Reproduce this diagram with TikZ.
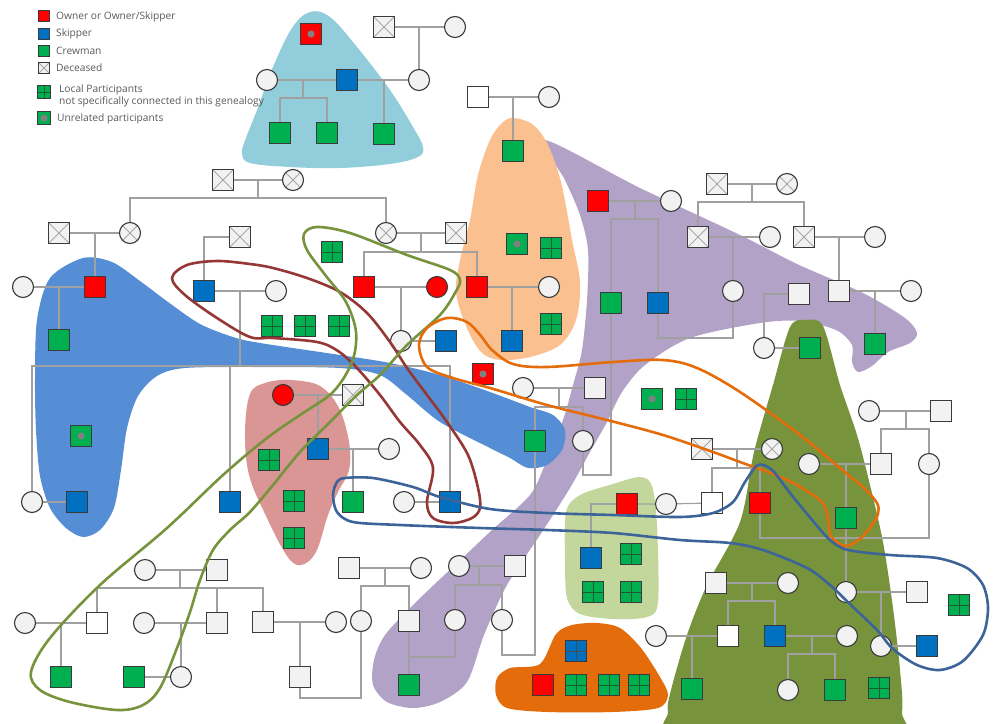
\documentclass[tikz,border=0pt]{standalone}
\usepackage{fontspec}
\setmainfont{Open Sans}
\usetikzlibrary{calc}
\definecolor{nred}{HTML}{FF0000}
\definecolor{nblue}{HTML}{0070C0}
\definecolor{ngreen}{HTML}{00B050}
\definecolor{nlight}{HTML}{F2F2F2}
\definecolor{ndark}{HTML}{3A3A3A}
\definecolor{lgray}{HTML}{A0A0A0}
\definecolor{xgray}{HTML}{A6A6A6}
\definecolor{gridc}{HTML}{1E5A32}
\definecolor{dotc}{HTML}{808080}
\definecolor{legc}{HTML}{595959}
\definecolor{blLight}{HTML}{92CDDC}
\definecolor{blMain}{HTML}{558ED5}
\definecolor{blRose}{HTML}{D99694}
\definecolor{blPeach}{HTML}{FAC090}
\definecolor{blPurple}{HTML}{B3A2C7}
\definecolor{blLgreen}{HTML}{C3D69B}
\definecolor{blOrange}{HTML}{E46C0A}
\definecolor{blOlive}{HTML}{77933C}
\definecolor{lpRed}{HTML}{953735}
\definecolor{lpOlive}{HTML}{77933C}
\definecolor{lpOrange}{HTML}{E46C0A}
\definecolor{lpBlue}{HTML}{3D6498}
\pgfdeclarelayer{blobs}
\pgfdeclarelayer{lines}
\pgfdeclarelayer{fg}
\pgfsetlayers{blobs,lines,main,fg}
\tikzset{
 nd/.style={inner sep=0pt, outer sep=0pt, line width=1.1pt, draw=ndark},
 sq/.style={nd, rectangle, minimum size=20.5pt, fill=nlight},
 wsq/.style={sq, fill=white},
 ci/.style={nd, circle, minimum size=21pt, fill=nlight},
 rci/.style={ci, fill=nred},
 rsq/.style={sq, fill=nred},
 bsq/.style={sq, fill=nblue},
 gsq/.style={sq, fill=ngreen},
 xmark/.style={path picture={\draw[xgray, line width=0.8pt] (path picture bounding box.south west) -- (path picture bounding box.north east) (path picture bounding box.north west) -- (path picture bounding box.south east);}},
 dsq/.style={sq, xmark},
 dci/.style={ci, xmark},
 gridmark/.style={path picture={\draw[gridc, line width=0.9pt] (path picture bounding box.north) -- (path picture bounding box.south) (path picture bounding box.west) -- (path picture bounding box.east);}},
 grd/.style={gsq, gridmark},
 bgrd/.style={bsq, path picture={\draw[black!70, line width=0.9pt] (path picture bounding box.north) -- (path picture bounding box.south) (path picture bounding box.west) -- (path picture bounding box.east);}},
 dotmark/.style={path picture={\fill[dotc] (path picture bounding box.center) circle (3.6pt);}},
 gdot/.style={gsq, dotmark},
 rdot/.style={rsq, dotmark},
 ln/.style={draw=lgray, line width=1.2pt},
 lp/.style={line width=2.6pt},
 lg/.style={font=\fontsize{10.2}{12}\selectfont, text=legc, anchor=west, inner sep=0pt},
 lgbox/.style={minimum size=11.5pt, line width=0.8pt},
}
\begin{document}
\begin{tikzpicture}[x=1pt,y=-1pt]
\useasboundingbox (0,0) rectangle (995,723);
\clip (0,0) rectangle (995,723);
% ---------- blobs ----------
\begin{pgfonlayer}{blobs}
\fill[blLight] plot[smooth cycle, tension=0.6] coordinates {(310,12) (330,17) (357,47) (390,90) (413,127) (423,147) (418,157) (390,164) (340,168) (290,167) (250,163) (242,153) (246,138) (257,110) (273,67) (292,28)};
\fill[blPurple] plot[smooth cycle, tension=0.5] coordinates {(545,140) (640,188) (740,235) (797,264) (863,293) (905,318) (917,333) (910,343) (888,352) (872,366) (858,372) (852,362) (852,345) (836,330) (800,321) (760,323) (690,338) (645,365) (622,392) (607,422) (590,452) (570,488) (542,532) (507,585) (484,635) (467,682) (440,702) (413,708) (387,702) (373,685) (374,660) (385,635) (415,603) (455,565) (492,530) (530,495) (546,462) (563,420) (573,385) (582,350) (587,300) (588,250) (580,215) (565,180)};
\fill[blPeach] plot[smooth cycle, tension=0.55] coordinates {(513,118) (532,124) (547,143) (561,182) (572,240) (580,282) (576,320) (560,345) (530,357) (500,360) (481,352) (466,326) (456,292) (460,260) (470,220) (478,175) (490,140) (502,123)};
\fill[blMain] plot[smooth cycle, tension=0.5] coordinates {(83,258) (112,262) (140,281) (168,302) (200,324) (233,337) (260,343) (340,355) (390,363) (440,375) (490,392) (530,407) (553,415) (565,430) (562,450) (547,465) (528,468) (510,458) (490,448) (440,422) (407,395) (380,375) (340,368) (260,367) (185,368) (157,376) (138,396) (127,428) (121,470) (114,508) (100,530) (83,537) (66,528) (50,508) (40,476) (36,430) (35,380) (37,320) (50,278)};
\fill[blRose] plot[smooth cycle, tension=0.6] coordinates {(250,394) (265,383) (290,380) (320,386) (339,408) (349,442) (349,470) (338,492) (328,515) (316,552) (301,565) (287,556) (266,516) (249,475) (245,432)};
\fill[blLgreen] plot[smooth cycle, tension=0.5] coordinates {(566,512) (580,495) (613,484) (640,477) (652,486) (657,525) (658,602) (647,617) (613,619) (580,614) (567,598) (565,560)};
\fill[blOrange] plot[smooth cycle, tension=0.5] coordinates {(497,678) (510,668) (540,664) (556,634) (572,625) (597,623) (620,628) (641,648) (660,677) (668,695) (658,708) (613,712) (547,712) (507,708) (496,695)};
\fill[blOlive] plot[smooth cycle, tension=0.5] coordinates {(806,320) (823,326) (840,385) (857,435) (870,485) (883,542) (893,608) (900,670) (902,712) (890,735) (680,735) (668,712) (671,690) (687,635) (707,585) (740,522) (754,452) (773,385) (790,327)};
\end{pgfonlayer}
% ---------- legend ----------
\node[rsq, lgbox] (lg1) at (44,16) {};
\node[bsq, lgbox] (lg2) at (44,34) {};
\node[gsq, lgbox] (lg3) at (44,51) {};
\node[dsq, lgbox] (lg4) at (44,68) {};
\node[grd, lgbox, minimum size=12.5pt] (lg5) at (44,92) {};
\node[gdot, lgbox, minimum size=12.5pt] (lg6) at (44,118) {};
\node[lg] (lt1) at (56,17) {Owner or Owner/Skipper};
\node[lg] (lt2) at (56,34) {Skipper};
\node[lg] (lt3) at (56,51) {Crewman};
\node[lg] (lt4) at (56,68) {Deceased};
\node[lg] (lt5) at (59,89.5) {Local Participants};
\node[lg] (lt6) at (59,101.5) {not specifically connected in this genealogy};
\node[lg] (lt7) at (57,119) {Unrelated participants};
% ---------- nodes ----------
\node[rdot] (t1) at (311,34) {};
\node[dsq] (t2) at (384,27) {};
\node[ci] (t3) at (455,27) {};
\node[ci] (t4) at (267,80) {};
\node[bsq] (t5) at (347,80) {};
\node[ci] (t6) at (419,80) {};
\node[gsq] (t7) at (280,133) {};
\node[gsq] (t8) at (327,133) {};
\node[gsq] (t9) at (384,134) {};
\node[wsq] (t10) at (478,97) {};
\node[ci] (t11) at (549,97) {};
\node[gsq] (t12) at (513,151) {};
\node[dsq] (g1) at (223,180) {};
\node[dci] (g2) at (293,180) {};
\node[dsq] (g3) at (59,233) {};
\node[dci] (g4) at (130,233) {};
\node[dsq] (g5) at (240,237) {};
\node[dci] (g6) at (386,233) {};
\node[dsq] (g7) at (456,233) {};
\node[ci] (h1) at (23,287) {};
\node[rsq] (h2) at (95,287) {};
\node[bsq] (h3) at (204,291) {};
\node[ci] (h4) at (276,291) {};
\node[rsq] (h5) at (364,287) {};
\node[rci] (h6) at (437,287) {};
\node[rsq] (h7) at (477,287) {};
\node[ci] (h8) at (549,287) {};
\node[gsq] (h9) at (59,340) {};
\node[ci] (h10) at (401,341) {};
\node[bsq] (h11) at (446,341) {};
\node[bsq] (h12) at (512,341) {};
\node[gdot] (h13) at (517,244) {};
\node[grd] (h14) at (551,248) {};
\node[grd] (h15) at (551,324) {};
\node[grd] (h16) at (332,252) {};
\node[grd] (h17) at (272,326) {};
\node[grd] (h18) at (305,326) {};
\node[grd] (h19) at (339,326) {};
\node[gdot] (h20) at (81,436) {};
\node[rdot] (h21) at (483,374) {};
\node[rci] (r1) at (283,395) {};
\node[dsq] (r2) at (353,395) {};
\node[bsq] (r3) at (318,449) {};
\node[ci] (r4) at (389,449) {};
\node[grd] (r5) at (269,460) {};
\node[grd] (r6) at (294,501) {};
\node[grd] (r7) at (294,538) {};
\node[gsq] (r8) at (353,502) {};
\node[ci] (k1) at (32,502) {};
\node[bsq] (k2) at (77,502) {};
\node[bsq] (k3) at (230,502) {};
\node[ci] (k4) at (404,502) {};
\node[bsq] (k5) at (450,502) {};
\node[dsq] (u1) at (717,184) {};
\node[dci] (u2) at (787,184) {};
\node[rsq] (u3) at (598,201) {};
\node[ci] (u4) at (671,201) {};
\node[dsq] (u5) at (698,237) {};
\node[ci] (u6) at (770,237) {};
\node[dsq] (u7) at (804,237) {};
\node[ci] (u8) at (875,237) {};
\node[gsq] (u9) at (611,303) {};
\node[bsq] (u10) at (658,303) {};
\node[ci] (u11) at (733,291) {};
\node[sq] (u12) at (799,294) {};
\node[sq] (u13) at (839,291) {};
\node[ci] (u14) at (911,291) {};
\node[ci] (u15) at (764,348) {};
\node[gsq] (u16) at (810,348) {};
\node[gsq] (u17) at (875,344) {};
\node[ci] (m1) at (523,388) {};
\node[sq] (m2) at (595,388) {};
\node[gsq] (m3) at (535,441) {};
\node[ci] (m4) at (583,441) {};
\node[gdot] (m5) at (652,399) {};
\node[grd] (m6) at (686,399) {};
\node[dsq] (q1) at (702,449) {};
\node[dci] (q2) at (772,449) {};
\node[ci] (q3) at (869,411) {};
\node[sq] (q4) at (941,411) {};
\node[ci] (q5) at (809,464) {};
\node[sq] (q6) at (881,464) {};
\node[ci] (q7) at (929,464) {};
\node[wsq] (q8) at (712,503) {};
\node[rsq] (q9) at (760,503) {};
\node[gsq] (q10) at (846,518) {};
\node[rsq] (l1) at (627,504) {};
\node[ci] (l2) at (666,504) {};
\node[bsq] (l3) at (591,558) {};
\node[grd] (l4) at (631,554) {};
\node[grd] (l5) at (593,592) {};
\node[grd] (l6) at (631,592) {};
\node[bgrd] (o1) at (576,651) {};
\node[rsq] (o2) at (543,685) {};
\node[grd] (o3) at (576,685) {};
\node[grd] (o4) at (609,685) {};
\node[grd] (o5) at (639,685) {};
\node[sq] (v1) at (716,583) {};
\node[ci] (v2) at (788,583) {};
\node[ci] (v3) at (656,636) {};
\node[wsq] (v4) at (728,636) {};
\node[bsq] (v5) at (775,636) {};
\node[ci] (v6) at (847,636) {};
\node[gsq] (v7) at (692,689) {};
\node[ci] (v8) at (788,690) {};
\node[gsq] (v9) at (835,690) {};
\node[grd] (v10) at (879,688) {};
\node[ci] (v11) at (846,592) {};
\node[sq] (v12) at (917,592) {};
\node[ci] (v13) at (881,646) {};
\node[bsq] (v14) at (927,646) {};
\node[grd] (v15) at (959,605) {};
\node[ci] (w1) at (145,570) {};
\node[sq] (w2) at (217,570) {};
\node[ci] (w3) at (25,623) {};
\node[wsq] (w4) at (97,623) {};
\node[ci] (w5) at (144,623) {};
\node[sq] (w6) at (217,623) {};
\node[sq] (w7) at (263,622) {};
\node[ci] (w8) at (336,622) {};
\node[gsq] (w9) at (61,677) {};
\node[gsq] (w10) at (134,677) {};
\node[ci] (w11) at (181,677) {};
\node[sq] (w12) at (300,677) {};
\node[sq] (z1) at (349,568) {};
\node[ci] (z2) at (421,568) {};
\node[ci] (z3) at (459,566) {};
\node[sq] (z4) at (515,566) {};
\node[ci] (z5) at (361,621) {};
\node[sq] (z6) at (409,621) {};
\node[ci] (z7) at (455,620) {};
\node[ci] (z8) at (502,620) {};
\node[gsq] (z9) at (409,685) {};
% ---------- junction coordinates ----------
\coordinate (s1) at (303,98);
\coordinate (s2) at (258,198);
\coordinate (s3) at (421,252);
\coordinate (s4) at (240,366);
\coordinate (s5) at (752,202);
\coordinate (s6) at (635,219);
\coordinate (s7) at (559,407);
\coordinate (s8) at (737,468);
\coordinate (s9) at (906,429);
\coordinate (s10) at (180,588);
\coordinate (s11) at (385,586);
\coordinate (s12) at (479,585);
\coordinate (s13) at (752,601);
\coordinate (s14) at (812,654);
\coordinate (y1) at (0,475);
\coordinate (y2) at (0,338);
\coordinate (y3) at (0,655);
\coordinate (y4) at (0,698);
\coordinate (y5) at (0,657);
\coordinate (y6) at (0,538);
% ---------- connectors ----------
\begin{pgfonlayer}{lines}
\draw[ln] (t2) -- (t3); \draw[ln] (t6 |- t2) -- (t6);
\draw[ln] (t4) -- (t5) -- (t6);
\draw[ln] (s1 |- t5) -- (s1); \draw[ln] (t7) -- (t7 |- s1) -| (t8);
\draw[ln] (t9 |- t5) -- (t9);
\draw[ln] (t10) -- (t11); \draw[ln] (t12 |- t10) -- (t12);
\draw[ln] (g1) -- (g2); \draw[ln] (s2 |- g1) -- (s2); \draw[ln] (g4) -- (g4 |- s2) -| (g6);
\draw[ln] (g3) -- (g4); \draw[ln] (h2 |- g3) -- (h2);
\draw[ln] (g5) -| (h3);
\draw[ln] (g6) -- (g7); \draw[ln] (s3 |- g6) -- (s3); \draw[ln] (h5) -- (h5 |- s3) -| (h7);
\draw[ln] (h1) -- (h2); \draw[ln] (h9 |- h2) -- (h9);
\draw[ln] (h3) -- (h4); \draw[ln] (s4 |- h3) -- (s4); \draw[ln] (k1) -- (k1 |- s4) -| (k5); \draw[ln] (k3) -- (k3 |- s4);
\draw[ln] (h5) -- (h6); \draw[ln] (h10 |- h5) -- (h10);
\draw[ln] (h7) -- (h8); \draw[ln] (h12 |- h7) -- (h12);
\draw[ln] (h10) -- (h11);
\draw[ln] (k1) -- (k2);
\draw[ln] (r1) -- (r2); \draw[ln] (r3 |- r1) -- (r3);
\draw[ln] (r3) -- (r4); \draw[ln] (r8 |- r3) -- (r8);
\draw[ln] (k4) -- (k5);
\draw[ln] (u1) -- (u2); \draw[ln] (s5 |- u1) -- (s5); \draw[ln] (u5) -- (u5 |- s5) -| (u7);
\draw[ln] (u3) -- (u4); \draw[ln] (s6 |- u3) -- (s6); \draw[ln] (u9) -- (u9 |- s6) -| (u10);
\draw[ln] (u5) -- (u6); \draw[ln] (u11 |- u5) -- (u11);
\draw[ln] (u7) -- (u8); \draw[ln] (u13 |- u7) -- (u13);
\draw[ln] (u13) -- (u14); \draw[ln] (u17 |- u13) -- (u17);
\draw[ln] (u12) -| (u15);
\draw[ln] (u15) -- (u16);
\draw[ln] (u9) -- (u9 |- y1) -- (m4 |- y1) -- (m4);
\draw[ln] (u10) -- (u10 |- y2) -- (u11 |- y2) -- (u11);
\draw[ln] (m1) -- (m2); \draw[ln] (s7 |- m1) -- (s7); \draw[ln] (m3) -- (m3 |- s7) -| (m4);
\draw[ln] (m3) -- (m3 |- y3) -- (z8 |- y3) -- (z8);
\draw[ln] (q1) -- (q2); \draw[ln] (s8 |- q1) -- (s8); \draw[ln] (q8) -- (q8 |- s8) -| (q9);
\draw[ln] (q3) -- (q4); \draw[ln] (s9 |- q3) -- (s9); \draw[ln] (q6) -- (q6 |- s9) -| (q7);
\draw[ln] (q5) -- (q6); \draw[ln] (q10 |- q5) -- (q10);
\draw[ln] (q9) -- (q9 |- y6) -- (q7 |- y6) -- (q7);
\draw[ln] (q10) -- (v11);
\draw[ln] (l1) -- (l2) -- (q8);
\draw[ln] (l1) -| (l3);
\draw[ln] (v1) -- (v2); \draw[ln] (s13 |- v1) -- (s13); \draw[ln] (v4) -- (v4 |- s13) -| (v5);
\draw[ln] (v3) -- (v4); \draw[ln] (v7 |- v3) -- (v7);
\draw[ln] (v5) -- (v6); \draw[ln] (s14 |- v5) -- (s14); \draw[ln] (v8) -- (v8 |- s14) -| (v9);
\draw[ln] (v11) -- (v12); \draw[ln] (v13 |- v11) -- (v13);
\draw[ln] (v13) -- (v14);
\draw[ln] (w1) -- (w2); \draw[ln] (s10 |- w1) -- (s10); \draw[ln] (w4) -- (w4 |- s10) -| (w7); \draw[ln] (w6) -- (w6 |- s10);
\draw[ln] (w3) -- (w4); \draw[ln] (w9 |- w3) -- (w9);
\draw[ln] (w5) -- (w6); \draw[ln] (w11 |- w5) -- (w11);
\draw[ln] (w10) -- (w11);
\draw[ln] (w7) -- (w8); \draw[ln] (w12 |- w7) -- (w12);
\draw[ln] (w12) -- (w12 |- y4) -- (z5 |- y4) -- (z5);
\draw[ln] (z1) -- (z2); \draw[ln] (s11 |- z1) -- (s11); \draw[ln] (z5) -- (z5 |- s11) -| (z6);
\draw[ln] (z6) -- (z9); \draw[ln] (z6 |- y5) -- (z7 |- y5) -- (z7);
\draw[ln] (z3) -- (z4); \draw[ln] (s12 |- z3) -- (s12); \draw[ln] (z7) -- (z7 |- s12) -| (z8);
\end{pgfonlayer}
% ---------- loops ----------
\begin{pgfonlayer}{fg}
\draw[lp, lpRed] plot[smooth cycle, tension=0.55] coordinates {(172,278) (187,265) (217,261) (250,264) (273,268) (307,278) (340,292) (367,313) (390,342) (407,368) (427,395) (447,422) (468,455) (478,488) (480,508) (472,518) (453,523) (433,518) (427,502) (433,468) (420,445) (400,422) (380,395) (357,368) (338,351) (317,342) (273,338) (250,337) (217,318) (185,295)};
\draw[lp, lpOlive] plot[smooth cycle, tension=0.55] coordinates {(317,227) (350,233) (407,255) (450,270) (460,280) (455,293) (440,315) (407,345) (380,375) (357,395) (330,422) (300,452) (273,485) (250,512) (230,530) (213,550) (200,580) (190,612) (177,648) (160,688) (143,705) (117,710) (70,702) (40,690) (31,672) (50,638) (100,585) (167,528) (223,475) (267,438) (300,415) (333,392) (352,362) (356,332) (346,302) (326,276) (307,250) (304,234)};
\draw[lp, lpOrange] plot[smooth cycle, tension=0.55] coordinates {(419,345) (427,328) (447,318) (467,322) (481,336) (492,350) (513,364) (547,367) (613,362) (663,360) (697,368) (740,392) (800,435) (847,474) (864,488) (877,503) (878,514) (872,525) (860,539) (845,546) (831,536) (828,518) (822,502) (797,485) (773,474) (740,462) (713,452) (663,435) (607,420) (547,405) (490,388) (453,378) (427,367)};
\draw[lp, lpBlue] plot[smooth cycle, tension=0.5] coordinates {(345,478) (373,478) (413,487) (440,497) (490,509) (547,513) (613,515) (680,517) (713,513) (733,502) (745,482) (758,465) (772,470) (790,493) (813,521) (830,540) (848,550) (890,555) (937,558) (967,568) (983,585) (988,608) (983,635) (963,661) (940,670) (917,665) (893,649) (877,630) (853,607) (830,585) (807,568) (763,550) (730,543) (680,540) (613,533) (547,530) (480,528) (400,525) (353,522) (337,512) (333,495) (337,482)};
\end{pgfonlayer}
\end{tikzpicture}
\end{document}
